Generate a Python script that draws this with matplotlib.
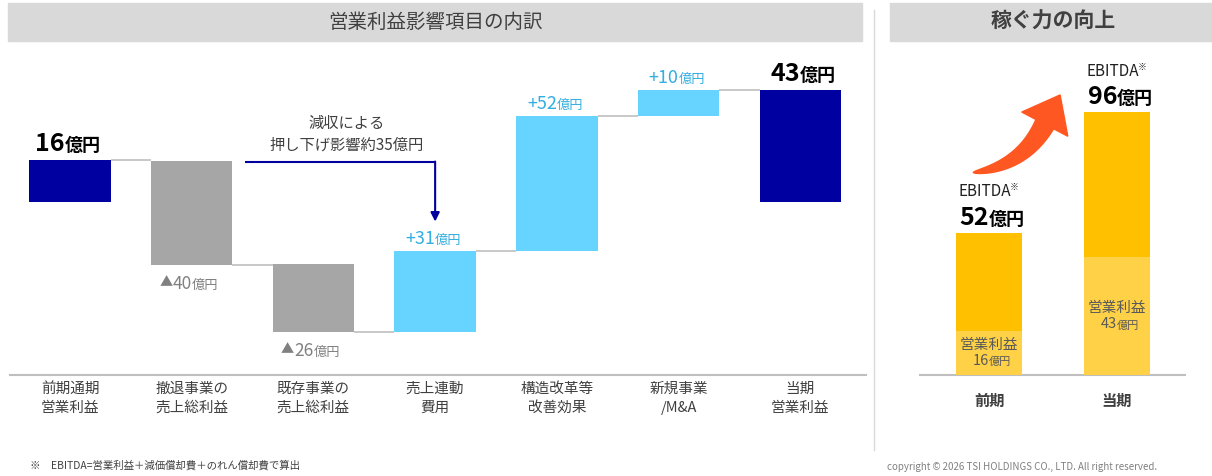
import numpy as np
import matplotlib
matplotlib.use("Agg")
import matplotlib.pyplot as plt
from matplotlib.patches import Rectangle, Polygon
from matplotlib.transforms import IdentityTransform

plt.rcParams['font.family'] = ['Noto Sans CJK JP', 'DejaVu Sans']

# ---------------- data ----------------
wf_categories = ["前期通期\n営業利益", "撤退事業の\n売上総利益", "既存事業の\n売上総利益",
                 "売上連動\n費用", "構造改革等\n改善効果", "新規事業\n/M&A", "当期\n営業利益"]
wf_start = 16
wf_deltas = [-40, -26, 31, 52, 10]
wf_end = 43
wf_note = "減収による\n押し下げ影響約35億円"

eb_categories = ["前期", "当期"]
eb_ebitda = [52, 96]
eb_op = [16, 43]

left_title = "営業利益影響項目の内訳"
right_title = "稼ぐ力の向上"
footnote = "※　EBITDA=営業利益＋減価償却費＋のれん償却費で算出"
copyright_text = "copyright © 2026 TSI HOLDINGS CO., LTD. All right reserved."

# ---------------- colours ----------------
DARK_BLUE = "#0000A0"
GRAY_BAR = "#A6A6A6"
LIGHT_BLUE = "#66D4FF"
BLUE_TXT = "#33AEE0"
GRAY_TXT = "#808080"
TXT = "#404040"
LINE = "#BFBFBF"
EB_COL = "#FFC000"
OP_COL = "#FFD147"

W, H = 1212, 476
fig = plt.figure(figsize=(W / 100, H / 100), dpi=100)


def px_rect(x0, y0, x1, y1):
    return [x0 / W, 1 - y1 / H, (x1 - x0) / W, (y1 - y0) / H]


# banners
fig.patches.append(Rectangle((8 / W, 1 - 41 / H), (862 - 8) / W, 38 / H,
                             transform=fig.transFigure, color="#D9D9D9", zorder=0))
fig.text(435 / W, 1 - 22 / H, left_title, ha="center", va="center", fontsize=14, color=TXT)
fig.patches.append(Rectangle((890 / W, 1 - 41 / H), (1212 - 890) / W, 38 / H,
                             transform=fig.transFigure, color="#D9D9D9", zorder=0))
fig.text(1053 / W, 1 - 21 / H, right_title, ha="center", va="center", fontsize=15,
         fontweight="bold", color=TXT)
# separator
fig.add_artist(plt.Line2D([874 / W, 874 / W], [1 - 450 / H, 1 - 10 / H],
                          transform=fig.transFigure, color="#D9D9D9", lw=1))

# ---------------- waterfall ----------------
ax = fig.add_axes(px_rect(10, 50, 866, 375))
ax.set_xlim(-0.493, 6.54)
ax.set_ylim(-66.5, 58.5)
for s in ["top", "left", "right"]:
    ax.spines[s].set_visible(False)
ax.spines["bottom"].set_color(LINE)
ax.spines["bottom"].set_linewidth(1.5)
ax.set_yticks([])
x = np.arange(len(wf_categories))
ax.set_xticks(x)
ax.set_xticklabels(wf_categories, fontsize=10.5, color=TXT, linespacing=1.45)
ax.tick_params(axis="x", length=0, pad=5)

bw = 0.67
levels = [wf_start]
bottoms, heights, colors = [0], [wf_start], [DARK_BLUE]
cur = wf_start
for d in wf_deltas:
    bottoms.append(min(cur, cur + d))
    heights.append(abs(d))
    colors.append(LIGHT_BLUE if d > 0 else GRAY_BAR)
    cur += d
    levels.append(cur)
bottoms.append(0)
heights.append(wf_end)
colors.append(DARK_BLUE)
ax.bar(x, heights, bottom=bottoms, width=bw, color=colors, zorder=3)

for i, lv in enumerate(levels):
    ax.hlines(lv, x[i] + bw / 2, x[i + 1] - bw / 2, color=LINE, lw=1.2, zorder=2)


def split_label(a, xc, y, num, unit, nsize, usize, color, weight, dy, split_dx=0, prefix=None,
                psize=None):
    t = a.annotate(num, (xc, y), xytext=(split_dx, dy), textcoords="offset points",
                   ha="right", va="baseline", fontsize=nsize, color=color, fontweight=weight)
    a.annotate(unit, (xc, y), xytext=(split_dx, dy), textcoords="offset points",
               ha="left", va="baseline", fontsize=usize, color=color, fontweight=weight)
    if prefix:
        a.annotate(prefix, xy=(0, 0.22), xycoords=t, xytext=(0, 0), textcoords="offset points",
                   ha="right", va="bottom", fontsize=psize, color=color)
    return t


split_label(ax, x[0], wf_start, f"{wf_start}", "億円", 18, 13, "black", "bold", 7, -4)
cur = wf_start
for i, d in enumerate(wf_deltas, start=1):
    top = max(cur, cur + d)
    bot = min(cur, cur + d)
    if d > 0:
        split_label(ax, x[i], top, f"+{d}", "億円", 13, 9.5, BLUE_TXT, "normal", 5.5)
    else:
        split_label(ax, x[i], bot, f"{abs(d)}", "億円", 12.5, 9.5, GRAY_TXT, "normal", -17.5,
                    prefix="▲", psize=9.5)
    cur += d
split_label(ax, x[-1], wf_end, f"{wf_end}", "億円", 18, 13, "black", "bold", 7)

# note arrow
arrow_y = wf_start - 0.4
arrow_x0 = x[1] + bw / 2 + 0.105
tip_y = (wf_start + wf_deltas[0] + wf_deltas[1] + wf_deltas[2]) + 11.5
ax.plot([arrow_x0, x[3]], [arrow_y, arrow_y], color=DARK_BLUE, lw=1.5, zorder=4,
        solid_capstyle="butt")
ax.annotate("", xy=(x[3], tip_y), xytext=(x[3], arrow_y),
            arrowprops=dict(arrowstyle="-|>", color=DARK_BLUE, lw=1.5, mutation_scale=13,
                            shrinkA=0, shrinkB=0), zorder=4)
ax.annotate(wf_note, ((arrow_x0 + x[3]) / 2 + 0.05, arrow_y), xytext=(0, 6),
            textcoords="offset points", ha="center", va="bottom", fontsize=11,
            color=TXT, linespacing=1.3)

# ---------------- EBITDA chart ----------------
ax2 = fig.add_axes(px_rect(920, 50, 1185, 375))
ax2.set_xlim(-0.539, 1.53)
ax2.set_ylim(0, 118.6)
for s in ["top", "left", "right"]:
    ax2.spines[s].set_visible(False)
ax2.spines["bottom"].set_color(LINE)
ax2.spines["bottom"].set_linewidth(1.5)
ax2.set_yticks([])
x2 = np.arange(len(eb_categories))
ax2.set_xticks(x2)
ax2.set_xticklabels(eb_categories, fontsize=11, color=TXT, fontweight="bold")
ax2.tick_params(axis="x", length=0, pad=13)
bw2 = 0.516
ax2.bar(x2, eb_ebitda, width=bw2, color=EB_COL, zorder=3)
ax2.bar(x2, eb_op, width=bw2, color=OP_COL, zorder=4)

for i in range(len(x2)):
    split_label(ax2, x2[i], eb_ebitda[i], f"{eb_ebitda[i]}", "億円", 18, 13, "black", "bold", 5.5)
    t = ax2.annotate("EBITDA", (x2[i], eb_ebitda[i]), xytext=(-3, 26),
                     textcoords="offset points", ha="center", va="baseline",
                     fontsize=11, color="#202020")
    ax2.annotate("※", xy=(1, 0.75), xycoords=t, xytext=(-1, 0), textcoords="offset points",
                 ha="left", va="center", fontsize=6.5, color="#202020")
    ax2.annotate("営業利益", (x2[i], eb_op[i] / 2), xytext=(0, 1), textcoords="offset points",
                 ha="center", va="bottom", fontsize=10.5, color="#595959", zorder=5)
    ax2.annotate(f"{eb_op[i]}", (x2[i], eb_op[i] / 2), xytext=(0, -1), textcoords="offset points",
                 ha="right", va="top", fontsize=10.5, color="#595959", zorder=5)
    ax2.annotate("億円", (x2[i], eb_op[i] / 2), xytext=(0, -3), textcoords="offset points",
                 ha="left", va="top", fontsize=8, color="#595959", zorder=5)

# orange curved arrow (drawn in display pixels)
fig.canvas.draw()
T = ax2.transData.transform((x2[0], eb_ebitda[0])) + np.array([-16, 60])
TIP = ax2.transData.transform((x2[1], eb_ebitda[1])) + np.array([-57, 17])
d = np.array([0.465, 0.885])
d = d / np.linalg.norm(d)
B = TIP - 33 * d
td = np.array([1.0, 0.12])
A = np.column_stack([td, d])
s, u = np.linalg.solve(A, B - T)
P1 = T + s * td
ts = np.linspace(0, 1, 60)
pts = ((1 - ts)[:, None] ** 2) * T + (2 * (1 - ts) * ts)[:, None] * P1 + (ts[:, None] ** 2) * B
der = 2 * (1 - ts)[:, None] * (P1 - T) + 2 * ts[:, None] * (B - P1)
der = der / np.linalg.norm(der, axis=1)[:, None]
nrm = np.column_stack([-der[:, 1], der[:, 0]])
wdt = 10 * ts ** 0.6
left = pts + nrm * wdt[:, None]
right = pts - nrm * wdt[:, None]
nB = np.array([-d[1], d[0]])
poly = np.vstack([left, B + nB * 26, TIP, B - nB * 26, right[::-1]])
fig.patches.append(Polygon(poly, closed=True, transform=IdentityTransform(),
                           color="#FF5722", zorder=6))

# footnote and copyright
fig.text(30 / W, 1 - 465 / H, footnote, ha="left", va="center", fontsize=7.5, color=TXT)
fig.text(887 / W, 1 - 467 / H, copyright_text, ha="left", va="center", fontsize=7,
         color=GRAY_TXT)

fig.savefig("out.png", dpi=100)
